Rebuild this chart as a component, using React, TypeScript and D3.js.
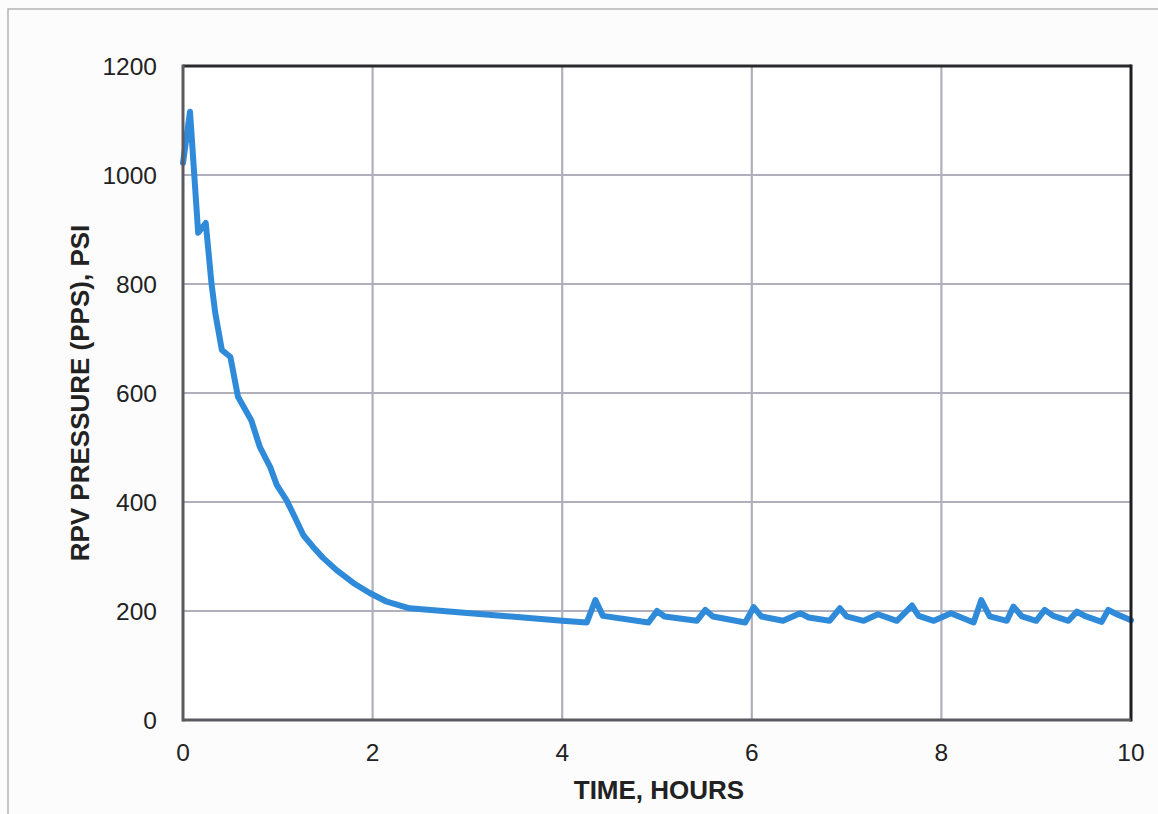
import React, { useRef, useEffect } from "react";
import * as d3 from "d3";

// time (hours) and RPV pressure (psi)
const hours = [
  0, 0.074, 0.16, 0.24, 0.3, 0.34, 0.41, 0.5, 0.58, 0.72, 0.81, 0.92, 0.99,
  1.09, 1.18, 1.27, 1.37, 1.48, 1.62, 1.8, 1.97, 2.15, 2.39, 3.03, 4.0, 4.26,
  4.35, 4.43, 4.91, 5.0, 5.08, 5.42, 5.51, 5.59, 5.93, 6.02, 6.1, 6.33, 6.51,
  6.6, 6.82, 6.93, 7.0, 7.18, 7.33, 7.53, 7.69, 7.76, 7.92, 8.1, 8.34, 8.42,
  8.51, 8.69, 8.76, 8.85, 9.0, 9.09, 9.18, 9.34, 9.43, 9.51, 9.69, 9.76, 9.85,
  10.0,
];
const psi = [
  1022, 1116, 894, 912, 802, 747, 679, 666, 593, 550, 501, 464, 431, 404, 372,
  339, 318, 297, 275, 251, 233, 217, 205, 196, 182, 179, 220, 191, 179, 200,
  190, 182, 202, 190, 179, 207, 190, 182, 196, 188, 182, 205, 190, 182, 194,
  182, 210, 191, 182, 196, 179, 220, 190, 182, 208, 190, 182, 202, 191, 182,
  199, 191, 180, 202, 194, 183,
];

const xTicks = [0, 2, 4, 6, 8, 10];
const yTicks = [0, 200, 400, 600, 800, 1000, 1200];

const xTitle = "TIME, HOURS";
const yTitle = "RPV PRESSURE (PPS), PSI";

const W = 1158;
const H = 814;

export default function App() {
  const ref = useRef<SVGSVGElement>(null);

  useEffect(() => {
    const svg = d3.select(ref.current);
    svg.selectAll("*").remove();

    const left = 183, right = 1131, top = 66, bottom = 720;
    const x = d3.scaleLinear().domain([0, 10]).range([left, right]);
    const y = d3.scaleLinear().domain([0, 1200]).range([bottom, top]);

    svg.append("rect").attr("width", W).attr("height", H).attr("fill", "#fcfcfc");

    // outer page frame
    svg.append("rect")
      .attr("x", 8).attr("y", 9)
      .attr("width", W + 20).attr("height", H + 20)
      .attr("fill", "none")
      .attr("stroke", "#b4b4b8")
      .attr("stroke-width", 1.5);

    svg.append("rect")
      .attr("x", left).attr("y", top)
      .attr("width", right - left).attr("height", bottom - top)
      .attr("fill", "#ffffff");

    // grid
    const grid = svg.append("g").attr("stroke", "#b0b0bc").attr("stroke-width", 2.2);
    grid.selectAll("line.v")
      .data(xTicks.slice(1, -1))
      .enter().append("line")
      .attr("x1", d => x(d)).attr("x2", d => x(d))
      .attr("y1", top).attr("y2", bottom);
    grid.selectAll("line.h")
      .data(yTicks.slice(1, -1))
      .enter().append("line")
      .attr("x1", left).attr("x2", right)
      .attr("y1", d => y(d)).attr("y2", d => y(d));

    // data line
    const pts: [number, number][] = hours.map((h, i) => [h, psi[i]]);
    const line = d3.line<[number, number]>()
      .x(d => x(d[0]))
      .y(d => y(d[1]));
    svg.append("path")
      .datum(pts)
      .attr("d", line)
      .attr("fill", "none")
      .attr("stroke", "#2f8bd9")
      .attr("stroke-width", 6)
      .attr("stroke-linejoin", "round")
      .attr("stroke-linecap", "round");

    // plot border
    svg.append("line").attr("x1", left).attr("x2", right).attr("y1", top).attr("y2", top)
      .attr("stroke", "#2a2a2e").attr("stroke-width", 3);
    svg.append("line").attr("x1", right).attr("x2", right).attr("y1", top - 1.5).attr("y2", bottom + 1.5)
      .attr("stroke", "#1e1e22").attr("stroke-width", 3);
    svg.append("line").attr("x1", left).attr("x2", left).attr("y1", top - 1.5).attr("y2", bottom + 1.5)
      .attr("stroke", "#5a5a60").attr("stroke-width", 3);
    svg.append("line").attr("x1", left).attr("x2", right).attr("y1", bottom).attr("y2", bottom)
      .attr("stroke", "#5a5a60").attr("stroke-width", 3);

    const font = "'Liberation Sans', Arial, sans-serif";

    svg.append("g").selectAll("text")
      .data(yTicks)
      .enter().append("text")
      .attr("x", 157)
      .attr("y", d => y(d))
      .attr("dy", "0.36em")
      .attr("text-anchor", "end")
      .attr("font-family", font)
      .attr("font-size", 24.5)
      .attr("fill", "#222")
      .text(d => d);

    svg.append("g").selectAll("text")
      .data(xTicks)
      .enter().append("text")
      .attr("x", d => x(d))
      .attr("y", 761)
      .attr("text-anchor", "middle")
      .attr("font-family", font)
      .attr("font-size", 24.5)
      .attr("fill", "#222")
      .text(d => d);

    svg.append("text")
      .attr("x", 659)
      .attr("y", 799)
      .attr("text-anchor", "middle")
      .attr("font-family", font)
      .attr("font-weight", "bold")
      .attr("font-size", 26)
      .attr("fill", "#222")
      .text(xTitle);

    svg.append("text")
      .attr("transform", "translate(89," + 393 + ") rotate(-90)")
      .attr("text-anchor", "middle")
      .attr("font-family", font)
      .attr("font-weight", "bold")
      .attr("font-size", 26)
      .attr("fill", "#222")
      .text(yTitle);
  }, []);

  return (
    <svg
      ref={ref}
      width={W}
      height={H}
      style={{ position: "absolute", left: 0, top: 0, display: "block" }}
    />
  );
}
